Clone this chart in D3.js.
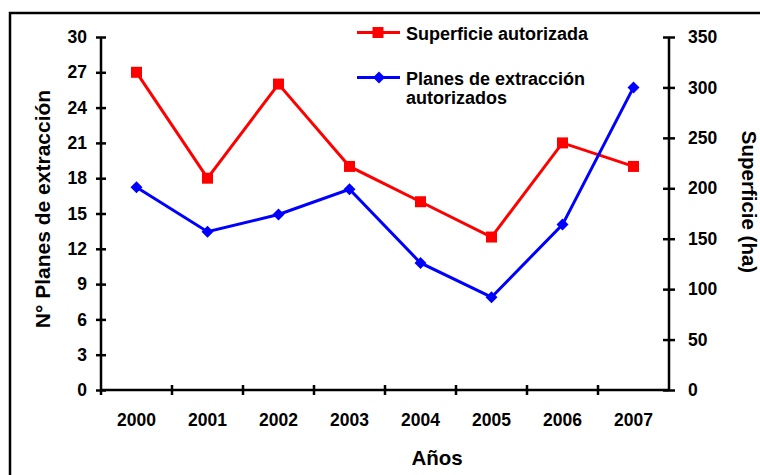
<!DOCTYPE html>
<html>
<head>
<meta charset="utf-8">
<script src="https://cdn.jsdelivr.net/npm/d3@7"></script>
<style>
  body { margin: 0; background: #fff; }
  svg text { font-family: "Liberation Sans", Arial, sans-serif; font-weight: bold; fill: #000; }
</style>
</head>
<body>
<div id="chart"></div>
<script>
// data
const years = ["2000", "2001", "2002", "2003", "2004", "2005", "2006", "2007"];
const superficieAutorizada = [27, 18, 26, 19, 16, 13, 21, 19];      // left axis
const planesAutorizados = [201, 157, 174, 199, 126, 92, 164, 300];   // right axis
const leftTicks = [0, 3, 6, 9, 12, 15, 18, 21, 24, 27, 30];
const rightTicks = [0, 50, 100, 150, 200, 250, 300, 350];

const W = 760, H = 475;
const plot = { left: 101, right: 669, top: 37, bottom: 390 };

const svg = d3.select("#chart").append("svg")
    .attr("width", W)
    .attr("height", H);

// outer frame (runs off the right and bottom edges)
svg.append("rect")
    .attr("x", 10).attr("y", 13)
    .attr("width", 800).attr("height", 500)
    .attr("fill", "none")
    .attr("stroke", "#000")
    .attr("stroke-width", 2.5);

const x = d3.scaleBand()
    .domain(years)
    .range([plot.left, plot.right])
    .padding(0);

const yLeft = d3.scaleLinear().domain([0, 30]).range([plot.bottom, plot.top]);
const yRight = d3.scaleLinear().domain([0, 350]).range([plot.bottom, plot.top]);

const cx = d => x(d) + x.bandwidth() / 2;

// left axis
const gLeft = svg.append("g")
    .attr("transform", `translate(${plot.left},0)`)
    .call(d3.axisLeft(yLeft).tickValues(leftTicks).tickSize(5).tickPadding(9));
gLeft.selectAll(".tick line").attr("x1", 5);

// right axis
const gRight = svg.append("g")
    .attr("transform", `translate(${plot.right},0)`)
    .call(d3.axisRight(yRight).tickValues(rightTicks).tickSize(6).tickPadding(13));
gRight.selectAll(".tick line").attr("x1", -6);

// bottom axis: labels at band centres, ticks at band edges
const gBottom = svg.append("g")
    .attr("transform", `translate(0,${plot.bottom})`)
    .call(d3.axisBottom(x).tickSize(0));
gBottom.selectAll(".tick text").attr("y", 36).attr("dy", 0);
gBottom.selectAll(".edge")
    .data(years.slice(1))
    .enter().append("line")
    .attr("class", "edge")
    .attr("x1", d => x(d)).attr("x2", d => x(d))
    .attr("y1", -5).attr("y2", 5)
    .attr("stroke", "#000").attr("stroke-width", 2.5);
gBottom.append("line")
    .attr("x1", plot.left).attr("x2", plot.left)
    .attr("y1", 0).attr("y2", 5)
    .attr("stroke", "#000").attr("stroke-width", 2.5);

[gLeft, gRight, gBottom].forEach(g => {
    g.select(".domain").attr("stroke-width", 2.5).attr("stroke", "#000");
    g.selectAll(".tick line").attr("stroke-width", 2.5).attr("stroke", "#000");
    g.selectAll(".tick text").style("font-size", "17.5px").attr("font-family", null);
    g.attr("font-family", null).attr("font-size", null);
});
gLeft.select(".domain").attr("d", `M0,${plot.top}V${plot.bottom}`);
gRight.select(".domain").attr("d", `M0,${plot.top}V${plot.bottom}`);
gBottom.select(".domain").attr("d", `M${plot.left},0H${plot.right}`);

// red series (squares)
const redLine = d3.line().x((d, i) => cx(years[i])).y(d => yLeft(d));
svg.append("path")
    .datum(superficieAutorizada)
    .attr("d", redLine)
    .attr("fill", "none")
    .attr("stroke", "#ff0000")
    .attr("stroke-width", 3);
svg.selectAll(".sq")
    .data(superficieAutorizada)
    .enter().append("rect")
    .attr("class", "sq")
    .attr("x", (d, i) => cx(years[i]) - 5.5)
    .attr("y", d => yLeft(d) - 5.5)
    .attr("width", 11).attr("height", 11)
    .attr("fill", "#ff0000");

// blue series (diamonds)
const blueLine = d3.line().x((d, i) => cx(years[i])).y(d => yRight(d));
svg.append("path")
    .datum(planesAutorizados)
    .attr("d", blueLine)
    .attr("fill", "none")
    .attr("stroke", "#0000ff")
    .attr("stroke-width", 3);
const diamond = "M0,-6L6,0L0,6L-6,0Z";
svg.selectAll(".dm")
    .data(planesAutorizados)
    .enter().append("path")
    .attr("class", "dm")
    .attr("d", diamond)
    .attr("transform", (d, i) => `translate(${cx(years[i])},${yRight(d)})`)
    .attr("fill", "#0000ff");

// axis titles
svg.append("text")
    .attr("transform", "translate(50,209) rotate(-90)")
    .attr("text-anchor", "middle")
    .style("font-size", "21px")
    .text("N° Planes de extracción");

svg.append("text")
    .attr("transform", "translate(742,202) rotate(90)")
    .attr("text-anchor", "middle")
    .style("font-size", "20.5px")
    .text("Superficie (ha)");

svg.append("text")
    .attr("x", 437).attr("y", 465)
    .attr("text-anchor", "middle")
    .style("font-size", "20.5px")
    .text("Años");

// legend
const legend = svg.append("g");
legend.append("line")
    .attr("x1", 357).attr("x2", 400).attr("y1", 32.5).attr("y2", 32.5)
    .attr("stroke", "#ff0000").attr("stroke-width", 3);
legend.append("rect")
    .attr("x", 372.5).attr("y", 27).attr("width", 11).attr("height", 11)
    .attr("fill", "#ff0000");
legend.append("text")
    .attr("x", 406).attr("y", 39.5)
    .style("font-size", "18px")
    .text("Superficie autorizada");

legend.append("line")
    .attr("x1", 357).attr("x2", 400).attr("y1", 77.5).attr("y2", 77.5)
    .attr("stroke", "#0000ff").attr("stroke-width", 3);
legend.append("path")
    .attr("d", diamond)
    .attr("transform", "translate(379,77.5)")
    .attr("fill", "#0000ff");
const lt = legend.append("text")
    .attr("x", 406).attr("y", 84.5)
    .style("font-size", "18px");
lt.append("tspan").attr("x", 406).text("Planes de extracción");
lt.append("tspan").attr("x", 406).attr("dy", 19).text("autorizados");
</script>
</body>
</html>
